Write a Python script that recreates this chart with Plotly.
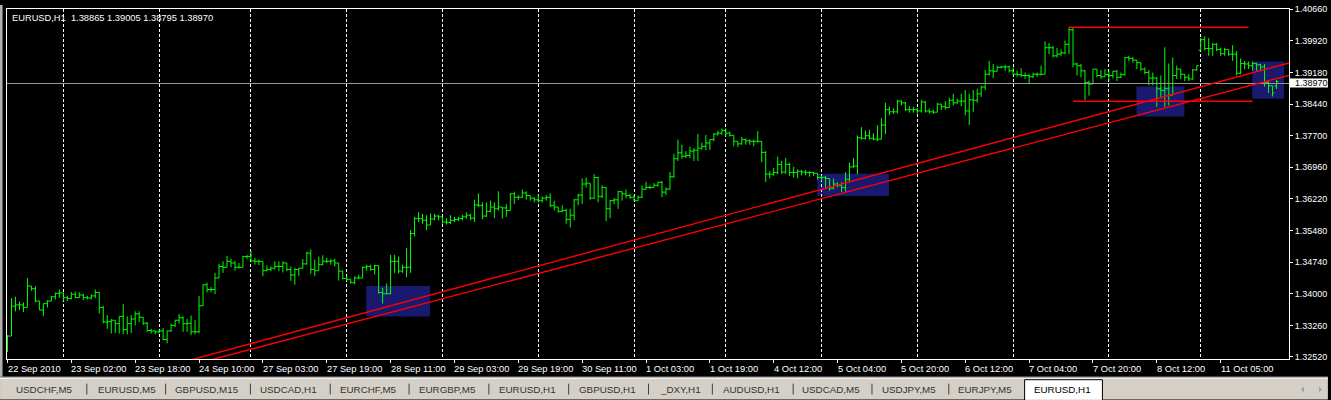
import plotly.graph_objects as go

# ---------------- DATA ----------------
opens = [
1.3268,1.3301,1.3371,1.3374,1.3374,1.3368,1.3418,1.3412,1.3383,1.3362,
1.3377,1.3383,1.3393,1.3401,1.3402,1.3391,1.3389,1.3399,1.3391,1.3397,
1.3391,1.3390,1.3395,1.3403,1.3368,1.3334,1.3335,1.3338,1.3330,1.3347,
1.3316,1.3330,1.3341,1.3353,1.3345,1.3331,1.3314,1.3313,1.3311,1.3313,
1.3293,1.3313,1.3326,1.3338,1.3344,1.3330,1.3331,1.3311,1.3311,1.3372,
1.3421,1.3410,1.3410,1.3437,1.3464,1.3462,1.3476,1.3472,1.3462,1.3462,
1.3487,1.3487,1.3477,1.3476,1.3476,1.3454,1.3457,1.3460,1.3464,1.3464,
1.3472,1.3457,1.3444,1.3457,1.3460,1.3470,1.3495,1.3457,1.3454,1.3468,
1.3476,1.3476,1.3477,1.3472,1.3453,1.3436,1.3434,1.3426,1.3437,1.3437,
1.3462,1.3464,1.3457,1.3466,1.3403,1.3400,1.3400,1.3476,1.3476,1.3453,
1.3462,1.3462,1.3541,1.3576,1.3576,1.3572,1.3561,1.3575,1.3582,1.3580,
1.3568,1.3567,1.3572,1.3574,1.3576,1.3580,1.3584,1.3577,1.3608,1.3607,
1.3582,1.3593,1.3603,1.3599,1.3603,1.3601,1.3595,1.3634,1.3626,1.3626,
1.3636,1.3630,1.3624,1.3620,1.3618,1.3624,1.3626,1.3607,1.3603,1.3593,
1.3595,1.3574,1.3584,1.3620,1.3631,1.3657,1.3659,1.3624,1.3672,1.3628,
1.3649,1.3599,1.3618,1.3620,1.3639,1.3634,1.3630,1.3626,1.3618,1.3626,
1.3645,1.3649,1.3649,1.3654,1.3661,1.3638,1.3645,1.3674,1.3716,1.3730,
1.3722,1.3724,1.3734,1.3736,1.3741,1.3745,1.3753,1.3761,1.3774,1.3776,
1.3782,1.3776,1.3771,1.3757,1.3751,1.3761,1.3758,1.3757,1.3757,1.3757,
1.3731,1.3680,1.3680,1.3684,1.3703,1.3685,1.3703,1.3684,1.3684,1.3687,
1.3685,1.3684,1.3684,1.3682,1.3672,1.3672,1.3670,1.3647,1.3657,1.3654,
1.3649,1.3668,1.3697,1.3699,1.3765,1.3764,1.3770,1.3764,1.3762,1.3762,
1.3795,1.3831,1.3826,1.3826,1.3851,1.3847,1.3831,1.3831,1.3831,1.3828,
1.3849,1.3828,1.3826,1.3825,1.3844,1.3838,1.3836,1.3853,1.3847,1.3851,
1.3851,1.3828,1.3854,1.3853,1.3868,1.3884,1.3914,1.3922,1.3921,1.3930,
1.3931,1.3931,1.3922,1.3914,1.3913,1.3911,1.3911,1.3908,1.3914,1.3914,
1.3914,1.3976,1.3976,1.3957,1.3961,1.3964,1.3984,1.4018,1.3938,1.3934,
1.3922,1.3895,1.3891,1.3926,1.3911,1.3908,1.3913,1.3911,1.3921,1.3907,
1.3913,1.3953,1.3951,1.3947,1.3941,1.3926,1.3918,1.3905,1.3905,1.3880,
1.3876,1.3880,1.3865,1.3911,1.3926,1.3914,1.3907,1.3903,1.3924,1.3970,
1.3995,1.3974,1.3974,1.3984,1.3972,1.3962,1.3972,1.3961,1.3961,1.3916,
1.3939,1.3938,1.3934,1.3939,1.3936,1.3931,1.3895,1.3887,1.38865]

highs = [
1.3303,1.3390,1.3393,1.3382,1.3380,1.3437,1.3418,1.3418,1.3383,1.3377,
1.3385,1.3395,1.3403,1.3410,1.3403,1.3395,1.3404,1.3405,1.3403,1.3400,
1.3395,1.3399,1.3410,1.3404,1.3371,1.3350,1.3341,1.3338,1.3347,1.3376,
1.3347,1.3350,1.3359,1.3359,1.3345,1.3334,1.3318,1.3314,1.3316,1.3320,
1.3314,1.3330,1.3339,1.3353,1.3347,1.3341,1.3349,1.3338,1.3395,1.3422,
1.3426,1.3416,1.3449,1.3470,1.3476,1.3489,1.3482,1.3477,1.3472,1.3489,
1.3491,1.3501,1.3484,1.3480,1.3476,1.3466,1.3464,1.3476,1.3476,1.3476,
1.3472,1.3464,1.3460,1.3460,1.3481,1.3499,1.3504,1.3480,1.3487,1.3490,
1.3484,1.3481,1.3482,1.3472,1.3454,1.3441,1.3434,1.3441,1.3444,1.3464,
1.3468,1.3468,1.3468,1.3466,1.3414,1.3424,1.3491,1.3491,1.3487,1.3468,
1.3507,1.3549,1.3580,1.3591,1.3587,1.3584,1.3588,1.3587,1.3584,1.3580,
1.3577,1.3584,1.3580,1.3580,1.3585,1.3591,1.3587,1.3620,1.3635,1.3614,
1.3614,1.3618,1.3614,1.3640,1.3603,1.3610,1.3636,1.3639,1.3631,1.3644,
1.3640,1.3630,1.3626,1.3634,1.3628,1.3631,1.3635,1.3618,1.3603,1.3607,
1.3599,1.3599,1.3622,1.3634,1.3670,1.3672,1.3659,1.3680,1.3674,1.3654,
1.3649,1.3620,1.3624,1.3641,1.3639,1.3644,1.3634,1.3631,1.3630,1.3654,
1.3662,1.3654,1.3659,1.3662,1.3664,1.3649,1.3685,1.3728,1.3761,1.3749,
1.3734,1.3745,1.3741,1.3774,1.3754,1.3772,1.3761,1.3776,1.3782,1.3787,
1.3787,1.3780,1.3771,1.3757,1.3767,1.3764,1.3762,1.3761,1.3781,1.3757,
1.3734,1.3687,1.3695,1.3721,1.3711,1.3718,1.3707,1.3697,1.3691,1.3690,
1.3690,1.3687,1.3685,1.3682,1.3677,1.3676,1.3670,1.3670,1.3661,1.3661,
1.3685,1.3707,1.3718,1.3771,1.3790,1.3782,1.3784,1.3776,1.3795,1.3811,
1.3847,1.3838,1.3834,1.3854,1.3853,1.3849,1.3839,1.3838,1.3835,1.3854,
1.3851,1.3834,1.3831,1.3847,1.3844,1.3851,1.3859,1.3868,1.3857,1.3868,
1.3877,1.3868,1.3877,1.3880,1.3887,1.3924,1.3945,1.3938,1.3934,1.3934,
1.3936,1.3934,1.3930,1.3922,1.3928,1.3918,1.3914,1.3918,1.3918,1.3934,
1.3991,1.3987,1.3980,1.3976,1.3972,1.3993,1.4024,1.4022,1.3941,1.3938,
1.3924,1.3899,1.3926,1.3926,1.3924,1.3926,1.3922,1.3922,1.3924,1.3918,
1.3954,1.3957,1.3954,1.3947,1.3941,1.3930,1.3924,1.3918,1.3908,1.3911,
1.3977,1.3939,1.3953,1.3934,1.3926,1.3914,1.3914,1.3926,1.3934,1.3999,
1.4003,1.3999,1.3987,1.3987,1.3976,1.3976,1.3972,1.3982,1.3968,1.3951,
1.3945,1.3944,1.3944,1.3941,1.3938,1.3938,1.3899,1.3887,1.39005]

lows = [
1.3264,1.3301,1.3359,1.3362,1.3357,1.3368,1.3407,1.3380,1.3362,1.3348,
1.3368,1.3383,1.3387,1.3391,1.3383,1.3383,1.3387,1.3390,1.3391,1.3385,
1.3387,1.3387,1.3390,1.3354,1.3331,1.3318,1.3307,1.3308,1.3307,1.3305,
1.3305,1.3308,1.3326,1.3334,1.3327,1.3311,1.3307,1.3305,1.3307,1.3291,
1.3284,1.3311,1.3322,1.3330,1.3311,1.3311,1.3303,1.3305,1.3308,1.3372,
1.3403,1.3403,1.3399,1.3437,1.3449,1.3462,1.3462,1.3454,1.3459,1.3462,
1.3482,1.3476,1.3468,1.3467,1.3441,1.3453,1.3453,1.3457,1.3453,1.3450,
1.3453,1.3430,1.3421,1.3441,1.3459,1.3468,1.3447,1.3441,1.3454,1.3467,
1.3472,1.3468,1.3464,1.3431,1.3434,1.3430,1.3424,1.3422,1.3434,1.3437,
1.3454,1.3454,1.3445,1.3400,1.3377,1.3399,1.3399,1.3449,1.3447,1.3449,
1.3439,1.3449,1.3534,1.3568,1.3564,1.3549,1.3561,1.3572,1.3572,1.3564,
1.3562,1.3563,1.3568,1.3570,1.3572,1.3576,1.3572,1.3568,1.3603,1.3574,
1.3580,1.3591,1.3577,1.3595,1.3576,1.3580,1.3595,1.3610,1.3620,1.3624,
1.3620,1.3618,1.3614,1.3614,1.3614,1.3618,1.3603,1.3595,1.3590,1.3591,
1.3564,1.3555,1.3572,1.3607,1.3610,1.3649,1.3620,1.3622,1.3614,1.3624,
1.3570,1.3577,1.3610,1.3599,1.3618,1.3624,1.3622,1.3616,1.3618,1.3624,
1.3644,1.3645,1.3649,1.3651,1.3626,1.3631,1.3644,1.3672,1.3711,1.3716,
1.3718,1.3718,1.3711,1.3711,1.3737,1.3736,1.3737,1.3757,1.3770,1.3772,
1.3768,1.3768,1.3745,1.3744,1.3749,1.3749,1.3749,1.3745,1.3754,1.3708,
1.3662,1.3670,1.3676,1.3680,1.3680,1.3680,1.3676,1.3672,1.3670,1.3677,
1.3677,1.3674,1.3676,1.3667,1.3664,1.3645,1.3641,1.3645,1.3649,1.3638,
1.3639,1.3661,1.3695,1.3680,1.3761,1.3761,1.3761,1.3759,1.3757,1.3762,
1.3774,1.3818,1.3821,1.3822,1.3841,1.3828,1.3824,1.3824,1.3822,1.3824,
1.3824,1.3822,1.3821,1.3825,1.3830,1.3831,1.3836,1.3841,1.3845,1.3839,
1.3818,1.3795,1.3826,1.3847,1.3861,1.3877,1.3911,1.3905,1.3921,1.3928,
1.3922,1.3918,1.3911,1.3908,1.3907,1.3903,1.3893,1.3905,1.3908,1.3911,
1.3914,1.3961,1.3953,1.3953,1.3957,1.3961,1.3961,1.3930,1.3911,1.3907,
1.3853,1.3864,1.3891,1.3907,1.3903,1.3908,1.3898,1.3905,1.3898,1.3905,
1.3911,1.3945,1.3941,1.3926,1.3922,1.3914,1.3888,1.3888,1.3838,1.3857,
1.3838,1.3841,1.3865,1.3903,1.3903,1.3898,1.3898,1.3901,1.3922,1.3968,
1.3970,1.3957,1.3957,1.3968,1.3957,1.3957,1.3957,1.3945,1.3911,1.3914,
1.3926,1.3926,1.3922,1.3922,1.3922,1.3885,1.3870,1.3862,1.38795]

closes = [
1.3301,1.3371,1.3374,1.3374,1.3368,1.3418,1.3412,1.3383,1.3362,1.3377,
1.3383,1.3393,1.3401,1.3402,1.3391,1.3389,1.3399,1.3391,1.3397,1.3391,
1.3390,1.3395,1.3403,1.3368,1.3334,1.3335,1.3338,1.3330,1.3347,1.3316,
1.3330,1.3341,1.3353,1.3345,1.3331,1.3314,1.3313,1.3311,1.3313,1.3293,
1.3313,1.3326,1.3338,1.3344,1.3330,1.3331,1.3311,1.3311,1.3372,1.3421,
1.3410,1.3410,1.3437,1.3464,1.3462,1.3476,1.3472,1.3462,1.3462,1.3487,
1.3487,1.3477,1.3476,1.3476,1.3454,1.3457,1.3460,1.3464,1.3464,1.3472,
1.3457,1.3444,1.3457,1.3460,1.3470,1.3495,1.3457,1.3454,1.3468,1.3476,
1.3476,1.3477,1.3472,1.3453,1.3436,1.3434,1.3426,1.3437,1.3437,1.3462,
1.3464,1.3457,1.3466,1.3403,1.3400,1.3400,1.3476,1.3476,1.3453,1.3462,
1.3462,1.3541,1.3576,1.3576,1.3572,1.3561,1.3575,1.3582,1.3580,1.3568,
1.3567,1.3572,1.3574,1.3576,1.3580,1.3584,1.3577,1.3608,1.3607,1.3582,
1.3593,1.3603,1.3599,1.3603,1.3601,1.3595,1.3634,1.3626,1.3626,1.3636,
1.3630,1.3624,1.3620,1.3618,1.3624,1.3626,1.3607,1.3603,1.3593,1.3595,
1.3574,1.3584,1.3620,1.3631,1.3657,1.3659,1.3624,1.3672,1.3628,1.3649,
1.3599,1.3618,1.3620,1.3639,1.3634,1.3630,1.3626,1.3618,1.3626,1.3645,
1.3649,1.3649,1.3654,1.3661,1.3638,1.3645,1.3674,1.3716,1.3730,1.3722,
1.3724,1.3734,1.3736,1.3741,1.3745,1.3753,1.3761,1.3774,1.3776,1.3782,
1.3776,1.3771,1.3757,1.3751,1.3761,1.3758,1.3757,1.3757,1.3757,1.3731,
1.3680,1.3680,1.3684,1.3703,1.3685,1.3703,1.3684,1.3684,1.3687,1.3685,
1.3684,1.3684,1.3682,1.3672,1.3672,1.3670,1.3647,1.3657,1.3654,1.3649,
1.3668,1.3697,1.3699,1.3765,1.3764,1.3770,1.3764,1.3762,1.3762,1.3795,
1.3831,1.3826,1.3826,1.3851,1.3847,1.3831,1.3831,1.3831,1.3828,1.3849,
1.3828,1.3826,1.3825,1.3844,1.3838,1.3836,1.3853,1.3847,1.3851,1.3851,
1.3828,1.3854,1.3853,1.3868,1.3884,1.3914,1.3922,1.3921,1.3930,1.3931,
1.3931,1.3922,1.3914,1.3913,1.3911,1.3911,1.3908,1.3914,1.3914,1.3914,
1.3976,1.3976,1.3957,1.3961,1.3964,1.3984,1.4018,1.3938,1.3934,1.3922,
1.3895,1.3891,1.3926,1.3911,1.3908,1.3913,1.3911,1.3921,1.3907,1.3913,
1.3953,1.3951,1.3947,1.3941,1.3926,1.3918,1.3905,1.3905,1.3880,1.3876,
1.3880,1.3865,1.3911,1.3926,1.3914,1.3907,1.3903,1.3924,1.3934,1.3995,
1.3974,1.3974,1.3984,1.3972,1.3962,1.3972,1.3961,1.3961,1.3916,1.3939,
1.3938,1.3934,1.3939,1.3936,1.3931,1.3895,1.3887,1.3870,1.38970]

bars = list(range(len(closes)))

# time-axis labels (bar index -> text) and day-boundary bars
time_label_bars = [0, 16, 32, 48, 64, 80, 96, 112, 128, 144, 160, 176, 192, 208, 224, 240, 256, 272, 288, 304]
time_labels = ["22 Sep 2010", "23 Sep 02:00", "23 Sep 18:00", "24 Sep 10:00", "27 Sep 03:00",
               "27 Sep 19:00", "28 Sep 11:00", "29 Sep 03:00", "29 Sep 19:00", "30 Sep 11:00",
               "1 Oct 03:00", "1 Oct 19:00", "4 Oct 12:00", "5 Oct 04:00", "5 Oct 20:00",
               "6 Oct 12:00", "7 Oct 04:00", "7 Oct 20:00", "8 Oct 12:00", "11 Oct 05:00"]
day_start_bars = [14, 38, 61, 85, 109, 133, 157, 180, 204, 228, 252, 276, 299]

price_ticks = [1.40660, 1.39920, 1.39180, 1.38440, 1.37700, 1.36960,
               1.36220, 1.35480, 1.34740, 1.34000, 1.33260, 1.32520]
price_tick_labels = ["1.40660", "1.39920", "1.39180", "1.38440", "1.37700", "1.36960",
                     "1.36220", "1.35480", "1.34740", "1.34000", "1.33260", "1.32520"]

bid_price = 1.38970
header_text = "EURUSD,H1  1.38865 1.39005 1.38795 1.38970"

# chart objects (bar index, price)
trend_upper = [(40, 1.32303), (321.1, 1.39403)]
trend_lower = [(45, 1.32307), (321.1, 1.39114)]
hline_top = [(266, 1.40240), (311, 1.40240)]
hline_bottom = [(267, 1.38509), (312, 1.38509)]
zones = [  # (bar from, bar to, price low, price high)
    (89.9, 105.9, 1.33466, 1.34181),
    (202.9, 220.9, 1.36288, 1.36812),
    (282.9, 294.9, 1.38151, 1.38850),
    (311.9, 319.9, 1.38566, 1.39437),
]

tab_labels = ["USDCHF,M5", "EURUSD,M5", "GBPUSD,M15", "USDCAD,H1", "EURCHF,M5", "EURGBP,M5",
              "EURUSD,H1", "GBPUSD,H1", "_DXY,H1", "AUDUSD,H1", "USDCAD,M5", "USDJPY,M5",
              "EURJPY,M5", "EURUSD,H1"]

# ---------------- LAYOUT ----------------
W, H = 1331, 400
L, R, T, B = 7, 39, 4, 41
PW, PH = W - L - R, H - T - B
FONT = "Liberation Sans"


def px(x):
    return (x - L) / PW


def py(y):
    return (H - B - y) / PH


tab_centers = [45, 127, 207, 289, 369, 449, 529, 609, 682, 753, 833, 911, 987, 1065]
tab_separators = [87, 166, 251, 331, 410, 490, 570, 650, 714, 795, 874, 951]

fig = go.Figure()
fig.add_trace(go.Ohlc(
    x=bars, open=opens, high=highs, low=lows, close=closes,
    increasing=dict(line=dict(color="#00ff00", width=1)),
    decreasing=dict(line=dict(color="#00ff00", width=1)),
    tickwidth=0.5, hoverinfo="skip", showlegend=False,
))

shapes = []
for (x0, x1, y0, y1) in zones:
    shapes.append(dict(type="rect", xref="x", yref="y", x0=x0, x1=x1, y0=y0, y1=y1,
                       fillcolor="#191970", line=dict(width=0), layer="below"))
# bid line (pixel offset only for crisp rendering)
shapes.append(dict(type="line", xref="paper", yref="y", x0=0, x1=1,
                   ysizemode="pixel", yanchor=bid_price, y0=-2, y1=-2,
                   line=dict(color="#999999", width=1), layer="above"))
for seg in (trend_upper, trend_lower):
    shapes.append(dict(type="line", xref="x", yref="y", x0=seg[0][0], y0=seg[0][1],
                       x1=seg[1][0], y1=seg[1][1], line=dict(color="#ff0000", width=1.4), layer="above"))
for seg in (hline_top, hline_bottom):
    shapes.append(dict(type="line", xref="x", yref="y", x0=seg[0][0], y0=seg[0][1],
                       x1=seg[1][0], y1=seg[1][1], line=dict(color="#ff0000", width=1.5), layer="above"))

# left window edge
shapes.append(dict(type="rect", xref="paper", yref="paper", x0=px(0), x1=px(2), y0=py(377), y1=py(0),
                   fillcolor="#b0b0b0", line=dict(width=0)))
shapes.append(dict(type="rect", xref="paper", yref="paper", x0=px(2), x1=px(3), y0=py(377), y1=py(0),
                   fillcolor="#606060", line=dict(width=0)))
# bid price box on the scale
shapes.append(dict(type="rect", xref="paper", yref="paper", x0=px(1293), x1=px(1331), y0=py(83.5), y1=py(74.5),
                   fillcolor="#ffffff", line=dict(width=0)))
# tab bar
shapes.append(dict(type="rect", xref="paper", yref="paper", x0=px(0), x1=px(W), y0=py(H), y1=py(377),
                   fillcolor="#d4d0c8", line=dict(width=0)))
shapes.append(dict(type="line", xref="paper", yref="paper", x0=px(0), x1=px(W), y0=py(377.5), y1=py(377.5),
                   line=dict(color="#808080", width=1)))
shapes.append(dict(type="line", xref="paper", yref="paper", x0=px(0), x1=px(W), y0=py(378.5), y1=py(378.5),
                   line=dict(color="#ffffff", width=1)))
shapes.append(dict(type="rect", xref="paper", yref="paper", x0=px(1027), x1=px(1105), y0=py(401), y1=py(380),
                   fillcolor="#ffffff", line=dict(color="#000000", width=1)))
for sx in tab_separators:
    shapes.append(dict(type="line", xref="paper", yref="paper", x0=px(sx), x1=px(sx), y0=py(395), y1=py(384),
                       line=dict(color="#404040", width=1)))
# scroll arrows
shapes.append(dict(type="path", xref="paper", yref="paper",
                   path=f"M {px(1307)} {py(387)} L {px(1307)} {py(393)} L {px(1304)} {py(390)} Z",
                   fillcolor="#a0a0a0", line=dict(width=0)))
shapes.append(dict(type="path", xref="paper", yref="paper",
                   path=f"M {px(1322)} {py(387)} L {px(1322)} {py(393)} L {px(1325)} {py(390)} Z",
                   fillcolor="#a0a0a0", line=dict(width=0)))

annotations = []
annotations.append(dict(text=header_text, xref="paper", yref="paper", x=px(10), y=py(13.5),
                        xanchor="left", yanchor="middle", showarrow=False,
                        font=dict(family=FONT, size=9.3, color="#ffffff")))
for b, t in zip(time_label_bars, time_labels):
    annotations.append(dict(text=t, xref="x", yref="paper", x=b, y=py(369.5), xshift=-2,
                            xanchor="left", yanchor="middle", showarrow=False,
                            font=dict(family=FONT, size=9.3, color="#ffffff")))
annotations.append(dict(text=f"{bid_price:.5f}", xref="paper", yref="paper", x=px(1296), y=py(79),
                        xanchor="left", yanchor="middle", showarrow=False,
                        font=dict(family=FONT, size=9, color="#000000")))
for i, (c, t) in enumerate(zip(tab_centers, tab_labels)):
    annotations.append(dict(text=t, xref="paper", yref="paper", x=px(c), y=py(389.5),
                            xanchor="center", yanchor="middle", showarrow=False,
                            font=dict(family=FONT, size=9.8,
                                      color="#000000" if i == len(tab_labels) - 1 else "#333333")))

fig.update_layout(
    width=W, height=H,
    margin=dict(l=L, r=R, t=T, b=B, pad=0),
    paper_bgcolor="#000000", plot_bgcolor="#000000",
    shapes=shapes, annotations=annotations,
    showlegend=False,
    xaxis=dict(
        range=[-0.125, 321.125], rangeslider=dict(visible=False),
        showgrid=False, zeroline=False,
        showline=True, mirror=True, linecolor="#ffffff", linewidth=1,
        tickmode="array", tickvals=time_label_bars, ticktext=[""] * len(time_label_bars),
        ticks="outside", ticklen=3, tickcolor="#ffffff", tickwidth=1,
        showticklabels=False,
        minor=dict(tickmode="array", tickvals=day_start_bars, showgrid=True,
                   gridcolor="#ffffff", gridwidth=1, griddash="3px,2px", ticks=""),
        fixedrange=True,
    ),
    yaxis=dict(
        range=[1.32473, 1.40667], side="right",
        showgrid=False, zeroline=False,
        showline=True, mirror=True, linecolor="#ffffff", linewidth=1,
        tickmode="array", tickvals=price_ticks, ticktext=price_tick_labels,
        ticks="outside", ticklen=3, tickcolor="#ffffff", tickwidth=1,
        tickfont=dict(family=FONT, size=9, color="#ffffff"),
        fixedrange=True,
    ),
)

fig.write_html("out.html", config={"displayModeBar": False},
               post_script="document.body.style.margin='0';document.body.style.overflow='hidden';")
